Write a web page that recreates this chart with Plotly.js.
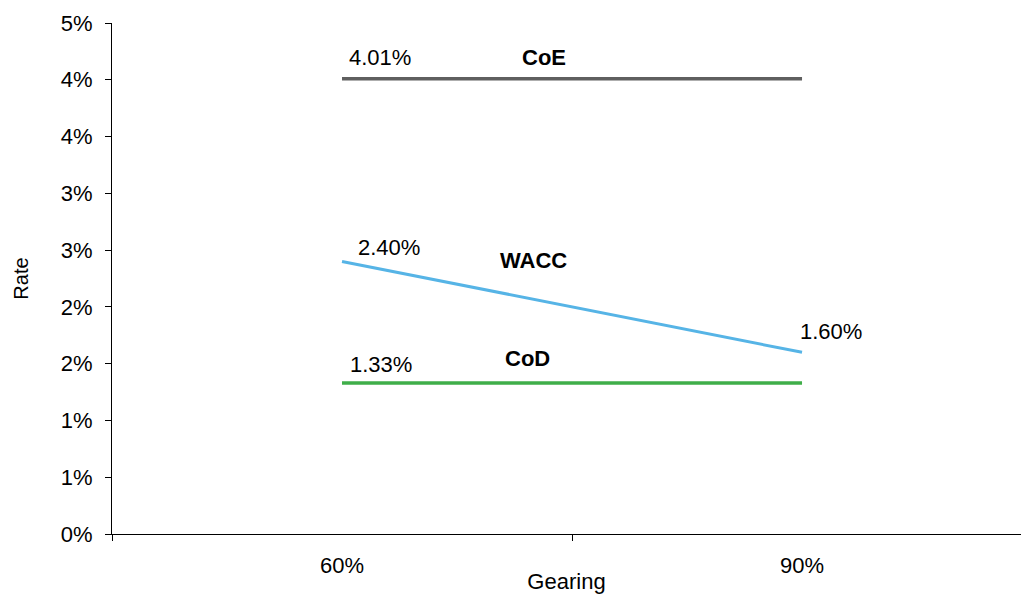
<!DOCTYPE html>
<html>
<head>
<meta charset="utf-8">
<script src="https://cdn.plot.ly/plotly-3.0.1.min.js"></script>
<style>html,body{margin:0;padding:0;background:#fff;}#chart{width:1021px;height:594px;}</style>
</head>
<body>
<div id="chart"></div>
<script>
var categories = ["60%", "90%"];
var seriesNames = ["CoE", "WACC", "CoD"];
var coe = [0.0401, 0.0401];
var wacc = [0.0240, 0.0160];
var cod = [0.0133, 0.0133];
var yTickVals = [0, 0.005, 0.01, 0.015, 0.02, 0.025, 0.03, 0.035, 0.04, 0.045];
var yTickText = ["0%", "1%", "1%", "2%", "2%", "3%", "3%", "4%", "4%", "5%"];

var FONT = "Liberation Sans, Arial, sans-serif";
var FS = 22;
var colors = {CoE: "#5f5f5f", WACC: "#56b4e6", CoD: "#3fae49"};
var widths = {CoE: 3.5, WACC: 3, CoD: 3.5};
var seriesData = {CoE: coe, WACC: wacc, CoD: cod};

var traces = seriesNames.map(function (n) {
  return {
    type: "scatter", mode: "lines", name: n,
    x: categories, y: seriesData[n],
    line: {color: colors[n], width: widths[n]},
    hoverinfo: "skip"
  };
});

function pct(v) { return (v * 100).toFixed(2) + "%"; }

var annotations = [];
// value labels
annotations.push({x: 0, y: coe[0], text: pct(coe[0]), xshift: 38, yshift: 21});
annotations.push({x: 0, y: wacc[0], text: pct(wacc[0]), xshift: 47, yshift: 14});
annotations.push({x: 1, y: wacc[1], text: pct(wacc[1]), xshift: 29, yshift: 21});
annotations.push({x: 0, y: cod[0], text: pct(cod[0]), xshift: 39, yshift: 18});
// series names
annotations.push({x: 0.5, y: coe[0], text: "<b>CoE</b>", xshift: -28, yshift: 21});
annotations.push({x: 0.5, y: (wacc[0] + wacc[1]) / 2, text: "<b>WACC</b>", xshift: -39, yshift: 46});
annotations.push({x: 0.5, y: cod[0], text: "<b>CoD</b>", xshift: -45, yshift: 24});
annotations.forEach(function (a) {
  a.xref = "x"; a.yref = "y"; a.showarrow = false;
  a.font = {family: FONT, size: FS, color: "#000"};
});

var layout = {
  width: 1021, height: 594,
  margin: {l: 112, r: 0, t: 23, b: 60, pad: 0},
  paper_bgcolor: "#fff", plot_bgcolor: "#fff",
  showlegend: false,
  font: {family: FONT, size: FS, color: "#000"},
  xaxis: {
    type: "category",
    range: [-0.5, 1.476],
    tickson: "boundaries",
    ticks: "outside", ticklen: 6, tickcolor: "#000", tickwidth: 1,
    ticklabelstandoff: 12,
    showline: true, linecolor: "#000", linewidth: 1,
    showgrid: false, zeroline: false,
    tickfont: {family: FONT, size: FS, color: "#000"},
    title: {text: "Gearing", font: {family: FONT, size: FS, color: "#000"}, standoff: 0}
  },
  yaxis: {
    range: [0, 0.045],
    tickvals: yTickVals, ticktext: yTickText,
    ticks: "outside", ticklen: 6, tickcolor: "#000", tickwidth: 1,
    ticklabelstandoff: 8,
    showline: true, linecolor: "#000", linewidth: 1,
    showgrid: false, zeroline: false,
    tickfont: {family: FONT, size: FS, color: "#000"},
    title: {text: "Rate", font: {family: FONT, size: 20, color: "#000"}, standoff: 26}
  },
  annotations: annotations
};

Plotly.newPlot("chart", traces, layout, {displayModeBar: false, staticPlot: true});
</script>
</body>
</html>
